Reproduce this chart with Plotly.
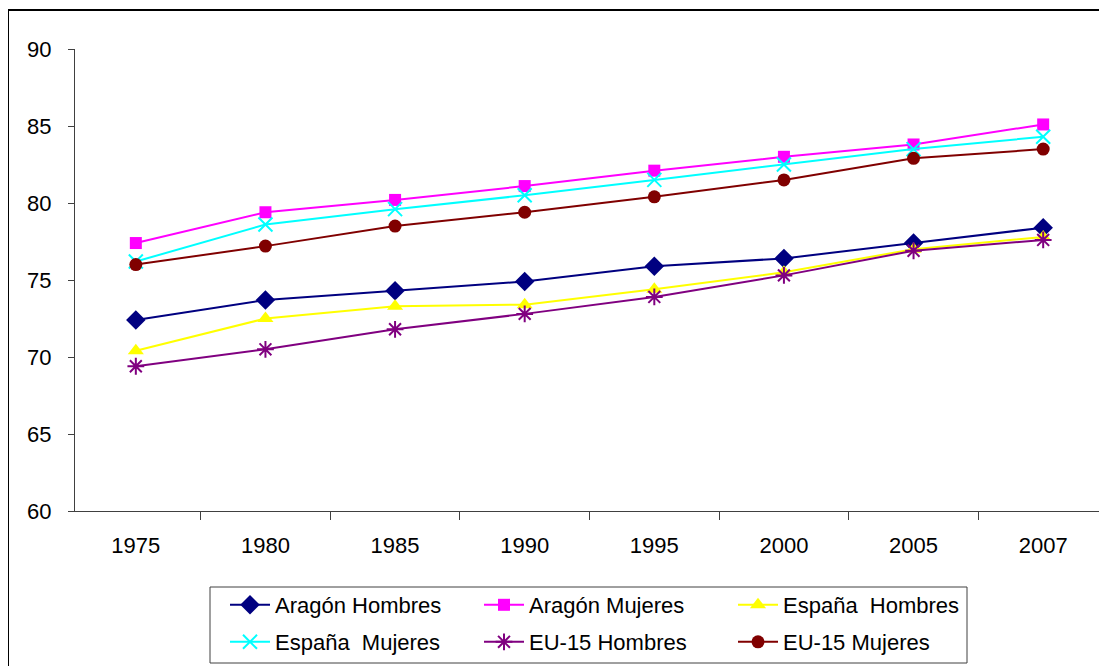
import plotly.graph_objects as go

years = ["1975", "1980", "1985", "1990", "1995", "2000", "2005", "2007"]

aragon_hombres = [72.4, 73.7, 74.3, 74.9, 75.9, 76.4, 77.4, 78.4]
aragon_mujeres = [77.4, 79.4, 80.2, 81.1, 82.1, 83.0, 83.8, 85.1]
espana_hombres = [70.4, 72.5, 73.3, 73.4, 74.4, 75.5, 77.0, 77.8]
espana_mujeres = [76.2, 78.6, 79.6, 80.5, 81.5, 82.5, 83.5, 84.3]
eu15_hombres = [69.4, 70.5, 71.8, 72.8, 73.9, 75.3, 76.9, 77.6]
eu15_mujeres = [76.0, 77.2, 78.5, 79.4, 80.4, 81.5, 82.9, 83.5]

series_names = ["Aragón Hombres", "Aragón Mujeres", "España  Hombres",
                "España  Mujeres", "EU-15 Hombres", "EU-15 Mujeres"]

FONT = "Liberation Sans, Arial, sans-serif"

specs = [
    (series_names[0], aragon_hombres, "#000080", "diamond", 15, "legend"),
    (series_names[1], aragon_mujeres, "#FF00FF", "square", 12, "legend"),
    (series_names[2], espana_hombres, "#FFFF00", "triangle-up", 14, "legend"),
    (series_names[3], espana_mujeres, "#00FFFF", "x-thin-open", 14, "legend2"),
    (series_names[4], eu15_hombres, "#800080", "asterisk-open", 14, "legend2"),
    (series_names[5], eu15_mujeres, "#800000", "circle", 13, "legend2"),
]

fig = go.Figure()
for name, vals, color, sym, size, lg in specs:
    fig.add_trace(go.Scatter(
        x=years, y=vals, name=name, mode="lines+markers",
        line=dict(color=color, width=2),
        marker=dict(symbol=sym, size=size, color=color,
                    line=dict(color=color, width=2 if "open" in sym else 0)),
        legend=lg,
    ))

# page body adds an 8px offset; work in screen coordinates and shift
OFF = 8
W, H = 1107 - OFF, 666 - OFF
plot_left, plot_right, plot_top, plot_bottom = 75, 1104, 49, 511
L = plot_left - OFF
R = W - (plot_right - OFF)
T = plot_top - OFF
B = H - (plot_bottom - OFF)
pw, ph = W - L - R, H - T - B

def px(x):
    return (x - plot_left) / pw

def py(y):
    return (plot_bottom - y) / ph

legend_common = dict(
    orientation="h", font=dict(family=FONT, size=22, color="#000000"),
    bgcolor="rgba(0,0,0,0)", borderwidth=0, entrywidth=199,
    xanchor="left", yanchor="middle", itemwidth=40,
    traceorder="normal",
)

fig.update_layout(
    width=W, height=H,
    margin=dict(l=L, r=R, t=T, b=B, autoexpand=False),
    paper_bgcolor="white", plot_bgcolor="white",
    font=dict(family=FONT, size=22, color="#000000"),
    showlegend=True,
    legend=dict(x=px(225), y=py(605), **legend_common),
    legend2=dict(x=px(225), y=py(642), **legend_common),
    xaxis=dict(
        type="category", showgrid=False, showline=True, linecolor="#404040",
        linewidth=1, ticks="outside", ticklen=8, tickcolor="#404040",
        tickson="boundaries", tickfont=dict(family=FONT, size=22),
        ticklabelstandoff=15, zeroline=False, mirror=False,
    ),
    yaxis=dict(
        range=[60, 90], dtick=5, tick0=60, showgrid=False, showline=True,
        linecolor="#404040", linewidth=1, ticks="outside", ticklen=6,
        tickcolor="#404040", tickfont=dict(family=FONT, size=22),
        ticklabelstandoff=12, zeroline=False,
    ),
    shapes=[
        dict(type="rect", xref="paper", yref="paper",
             x0=px(8), x1=px(1120), y0=py(690), y1=py(10),
             line=dict(color="#000000", width=2), fillcolor="rgba(0,0,0,0)",
             layer="below"),
        dict(type="rect", xref="paper", yref="paper",
             x0=px(210), x1=px(967), y0=py(663), y1=py(587),
             line=dict(color="#404040", width=1), fillcolor="rgba(0,0,0,0)",
             layer="below"),
    ],
)

fig.write_html("out.html")
